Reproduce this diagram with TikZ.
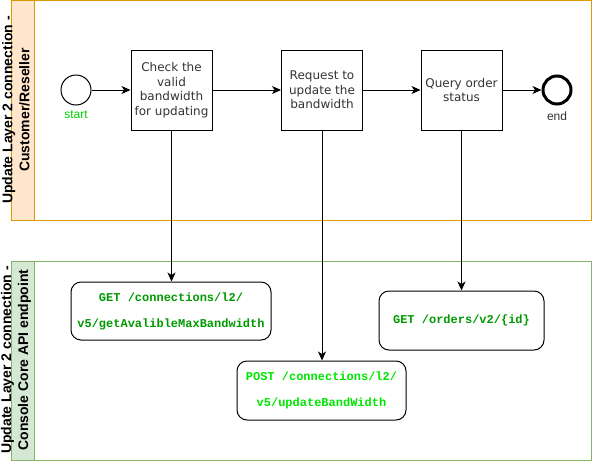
\documentclass[tikz,border=0pt]{standalone}
\usepackage{fontspec}
\setmainfont{DejaVu Sans}
\newfontfamily\arialf{Liberation Sans}
\newfontfamily\monof{Liberation Mono}
\usetikzlibrary{arrows.meta}
\definecolor{laneO}{HTML}{D79B00}
\definecolor{laneOfill}{HTML}{FFE6CC}
\definecolor{laneG}{HTML}{82B366}
\definecolor{laneGfill}{HTML}{D5E8D4}
\definecolor{txtgray}{HTML}{333333}
\definecolor{startgreen}{HTML}{00CC00}
\definecolor{getgreen}{HTML}{009900}
\definecolor{postgreen}{HTML}{00E600}
\tikzset{
  lanetitle/.style={rotate=90, align=center, text=black, inner sep=0pt,
    font=\arialf\bfseries\fontsize{14}{17}\selectfont},
  taskbox/.style={draw=black, line width=1pt, minimum width=81pt, minimum height=80pt,
    inner sep=0pt, align=center, text=txtgray, font=\fontsize{12}{14.5}\selectfont},
  evstart/.style={circle, draw=black, line width=1pt, minimum size=30pt, inner sep=0pt},
  evend/.style={circle, draw=black, line width=3pt, minimum size=28pt, inner sep=0pt},
  evlabel/.style={inner sep=0pt, font=\arialf\fontsize{12}{14}\selectfont},
  apibox/.style={draw=black, line width=1pt, rounded corners=10pt, inner sep=0pt,
    align=center, font=\monof\bfseries\fontsize{12}{26}\selectfont},
  flow/.style={draw=black, line width=1pt, -{Stealth[length=9pt,width=8pt,inset=2.5pt]}}
}
\begin{document}
\begin{tikzpicture}[x=1pt,y=-1pt]
\useasboundingbox (0,0) rectangle (593,461);
% lanes
\draw[laneO, line width=1pt] (11,0.5) rectangle (591,220);
\filldraw[draw=laneO, fill=laneOfill, line width=1pt] (11,0.5) rectangle (34,220);
\draw[laneG, line width=1pt] (11,261) rectangle (591,460);
\filldraw[draw=laneG, fill=laneGfill, line width=1pt] (11,261) rectangle (34,460);
\node[lanetitle] (title1) at (16,110) {Update Layer 2 connection -\\Customer/Reseller};
\node[lanetitle] (title2) at (16,360) {Update Layer 2 connection -\\Console Core API endpoint};
% events and tasks
\node[evstart] (start) at (76,90) {};
\node[evlabel, text=startgreen] (startl) at (76,115) {start};
\node[taskbox] (t1) at (171.5,90) {Check the\\valid\\bandwidth\\for updating};
\node[taskbox] (t2) at (322,90) {Request to\\update the\\bandwidth};
\node[taskbox] (t3) at (461.5,90) {Query order\\status};
\node[evend] (end) at (557,90) {};
\node[evlabel, text=txtgray] (endl) at (557,116) {end};
% api boxes
\node[apibox, minimum width=200pt, minimum height=58pt, text=getgreen] (a1) at (171,311)
  {GET /connections/l2/\\v5/getAvalibleMaxBandwidth};
\node[apibox, minimum width=169pt, minimum height=59pt, text=postgreen] (a2) at (321.5,390.5)
  {POST /connections/l2/\\v5/updateBandWidth};
\node[apibox, minimum width=165pt, minimum height=59pt, text=getgreen] (a3) at (461.5,320.5)
  {GET /orders/v2/\{id\}};
% flows
\draw[flow] (start) -- (t1);
\draw[flow] (t1) -- (t2);
\draw[flow] (t2) -- (t3);
\draw[flow] (t3) -- (end);
\draw[flow] (t1.south) -- (t1.south |- a1.north);
\draw[flow] (t2.south) -- (t2.south |- a2.north);
\draw[flow] (t3.south) -- (t3.south |- a3.north);
\end{tikzpicture}
\end{document}
